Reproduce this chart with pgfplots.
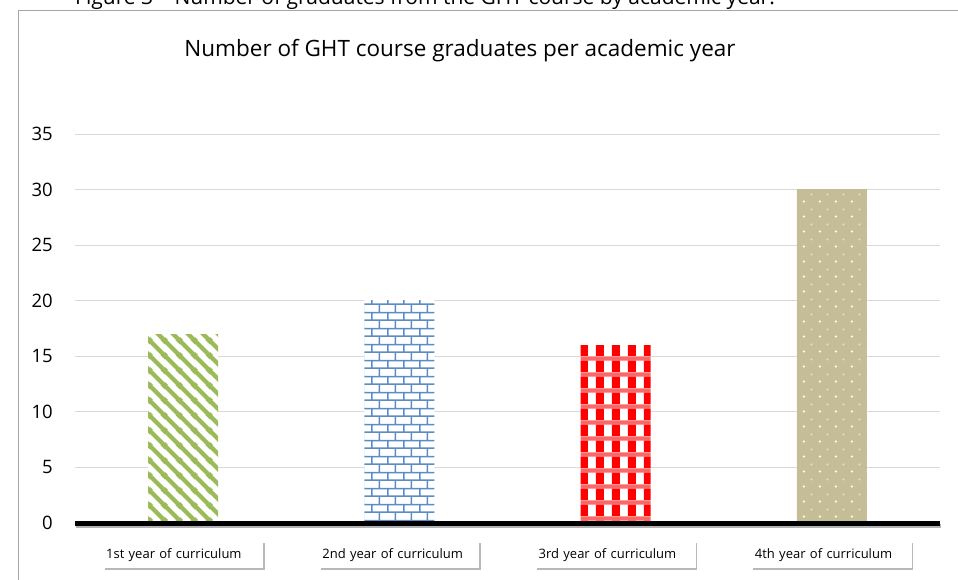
\documentclass[border=0pt]{standalone}
\usepackage{fontspec}
\setmainfont{Open Sans}
\usepackage{pgfplots}
\pgfplotsset{compat=1.18}
\usetikzlibrary{patterns,shadows}
\definecolor{stripegreen}{HTML}{9BBB59}
\definecolor{brickblue}{HTML}{5B8BC9}
\definecolor{tan}{HTML}{C4BD97}
\definecolor{dotbright}{HTML}{FFFFE6}
\definecolor{dotfaint}{HTML}{E2DEC4}
\definecolor{gridgray}{HTML}{D9D9D9}
\definecolor{framegray}{HTML}{A6A6A6}

\pgfdeclarepatterninherentlycolored{myGreenStripes}{\pgfpoint{0pt}{0pt}}{\pgfpoint{15pt}{15pt}}{\pgfpoint{15pt}{15pt}}{%
  \pgfsetfillcolor{white}\pgfpathrectangle{\pgfpoint{-1pt}{-1pt}}{\pgfpoint{17pt}{17pt}}\pgfusepath{fill}%
  \pgfsetstrokecolor{stripegreen}\pgfsetlinewidth{4.5pt}%
  \pgfpathmoveto{\pgfpoint{-2pt}{17pt}}\pgfpathlineto{\pgfpoint{17pt}{-2pt}}%
  \pgfpathmoveto{\pgfpoint{-6pt}{6pt}}\pgfpathlineto{\pgfpoint{6pt}{-6pt}}%
  \pgfpathmoveto{\pgfpoint{9pt}{21pt}}\pgfpathlineto{\pgfpoint{21pt}{9pt}}%
  \pgfusepath{stroke}}

\pgfdeclarepatterninherentlycolored{myBlueBricks}{\pgfpoint{0pt}{0pt}}{\pgfpoint{16pt}{16pt}}{\pgfpoint{16pt}{16pt}}{%
  \pgfsetfillcolor{white}\pgfpathrectangle{\pgfpoint{-1pt}{-1pt}}{\pgfpoint{18pt}{18pt}}\pgfusepath{fill}%
  \pgfsetstrokecolor{brickblue}\pgfsetlinewidth{1.6pt}%
  \pgfpathmoveto{\pgfpoint{-1pt}{4pt}}\pgfpathlineto{\pgfpoint{17pt}{4pt}}%
  \pgfpathmoveto{\pgfpoint{-1pt}{12pt}}\pgfpathlineto{\pgfpoint{17pt}{12pt}}%
  \pgfpathmoveto{\pgfpoint{4pt}{4pt}}\pgfpathlineto{\pgfpoint{4pt}{12pt}}%
  \pgfpathmoveto{\pgfpoint{12pt}{12pt}}\pgfpathlineto{\pgfpoint{12pt}{17pt}}%
  \pgfpathmoveto{\pgfpoint{12pt}{-1pt}}\pgfpathlineto{\pgfpoint{12pt}{4pt}}%
  \pgfusepath{stroke}}

\pgfdeclarepatterninherentlycolored{myRedCheck}{\pgfpoint{0pt}{0pt}}{\pgfpoint{16pt}{16pt}}{\pgfpoint{16pt}{16pt}}{%
  \pgfsetfillcolor{white}\pgfpathrectangle{\pgfpoint{-1pt}{-1pt}}{\pgfpoint{18pt}{18pt}}\pgfusepath{fill}%
  \pgfsetfillcolor{red!60}\pgfpathrectangle{\pgfpoint{-1pt}{12pt}}{\pgfpoint{18pt}{4.5pt}}\pgfusepath{fill}%
  \pgfsetfillcolor{red}\pgfpathrectangle{\pgfpoint{4pt}{-0.5pt}}{\pgfpoint{8.5pt}{12.5pt}}\pgfusepath{fill}}

\pgfdeclarepatterninherentlycolored{myTanDots}{\pgfpoint{0pt}{0pt}}{\pgfpoint{16pt}{15pt}}{\pgfpoint{16pt}{15pt}}{%
  \pgfsetfillcolor{tan}\pgfpathrectangle{\pgfpoint{-1pt}{-1pt}}{\pgfpoint{18pt}{17pt}}\pgfusepath{fill}%
  \pgfsetfillcolor{dotbright}\pgfpathcircle{\pgfpoint{4pt}{3.75pt}}{1.3pt}\pgfusepath{fill}%
  \pgfsetfillcolor{dotfaint}\pgfpathcircle{\pgfpoint{12pt}{11.25pt}}{1.3pt}\pgfusepath{fill}}

\begin{document}
\begin{tikzpicture}
\path[use as bounding box] (0,0) rectangle (958pt,-579pt);
\clip (0,0) rectangle (958pt,-579pt);
\node[anchor=base west, inner sep=0pt, font=\fontsize{21}{25}\selectfont] at (75pt,-4pt)
  {Figure 3 – Number of graduates from the GHT course by academic year.};
\draw[framegray, line width=1pt] (18pt,-600pt) -- (18pt,-10pt) -- (970pt,-10pt);
\node[font=\fontsize{22.5}{27}\selectfont] at (460pt,-51pt) {Number of GHT course graduates per academic year};
\begin{axis}[
  at={(75pt,-523pt)}, anchor=south west,
  scale only axis, width=865pt, height=389pt,
  xmin=-0.5, xmax=3.5, ymin=0, ymax=35,
  clip=false,
  axis line style={draw=none},
  tick style={draw=none},
  ytick={0,5,...,35},
  ymajorgrids, grid style={gridgray, line width=0.8pt},
  /pgf/number format/assume math mode=true,
  yticklabel style={font=\fontsize{18.5}{22}\selectfont, anchor=east, inner sep=0pt, xshift=-22pt},
  xtick={0,1,2,3},
  xticklabels={1st year of curriculum,2nd year of curriculum,3rd year of curriculum,4th year of curriculum},
  xticklabel style={font=\fontsize{13}{15}\selectfont, anchor=north, fill=white,
    text width=154pt, inner xsep=3pt, inner ysep=0pt, minimum height=27pt, align=left,
    yshift=-18pt,
    drop shadow={shadow xshift=1.5pt, shadow yshift=-2pt, fill=black, opacity=0.28}},
]
\addplot[ybar, bar width=70pt, bar shift=0pt, draw=none, pattern=myGreenStripes] coordinates {(0,17)};
\addplot[ybar, bar width=70pt, bar shift=0pt, draw=none, pattern=myBlueBricks] coordinates {(1,20)};
\addplot[ybar, bar width=70pt, bar shift=0pt, draw=none, pattern=myRedCheck] coordinates {(2,16)};
\addplot[ybar, bar width=70pt, bar shift=0pt, draw=none, pattern=myTanDots] coordinates {(3,30)};
\draw[black, opacity=0.3, line width=4pt] ([xshift=1pt,yshift=-3pt]axis cs:-0.5,0) -- ([xshift=1pt,yshift=-3pt]axis cs:3.5,0);
\draw[black, line width=5pt] (axis cs:-0.5,0) -- (axis cs:3.5,0);
\end{axis}
\end{tikzpicture}
\end{document}
